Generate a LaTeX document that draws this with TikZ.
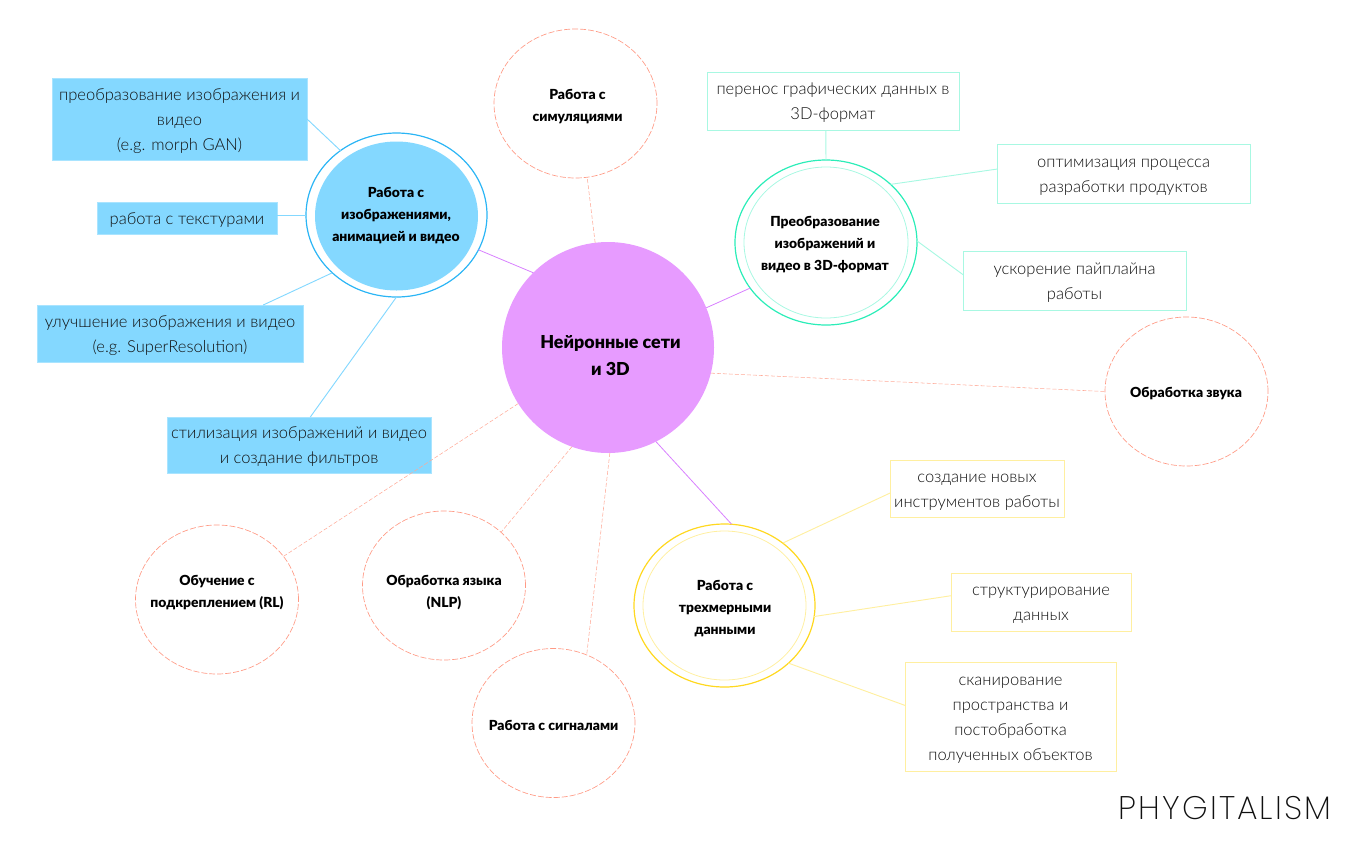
\documentclass[tikz,border=0pt]{standalone}
\usepackage{fontspec}
\usetikzlibrary{shapes.geometric}
\setmainfont{Lato}
\newfontfamily\lightf{Lato Light}
\newfontfamily\blackf{Lato Black}
\newfontfamily\logof[LetterSpace=6.5]{Poppins ExtraLight}
\newcommand\dnstrut{\rule{0pt}{11.5pt}}
\definecolor{cblue}{HTML}{84D8FF}
\definecolor{cbluer}{HTML}{2BB5F5}
\definecolor{cpink}{HTML}{E79BFF}
\definecolor{cpurple}{HTML}{D880FF}
\definecolor{cgreen}{HTML}{2BEDB8}
\definecolor{cgreenl}{HTML}{A8F8E2}
\definecolor{cyel}{HTML}{FFD820}
\definecolor{cyell}{HTML}{FFEFA0}
\definecolor{cdash}{HTML}{FF9A85}
\definecolor{ctext}{HTML}{101010}
\tikzset{
  x=0.75pt,y=-0.75pt,
  ell/.style={ellipse,inner sep=0pt,outer sep=0pt},
  pix/.style n args={2}{minimum width=#1*0.75pt,minimum height=#2*0.75pt},
  boxn/.style={rectangle,inner sep=0pt,outer sep=0pt,align=center,text=ctext,
     font=\lightf\fontsize{12.4}{18.75}\selectfont,line width=0.7pt},
  bluebox/.style={boxn,fill=cblue,draw=cblue!70!white,line width=0.5pt},
  greenbox/.style={boxn,draw=cgreenl},
  yelbox/.style={boxn,draw=cyell},
  head/.style={align=center,text=black,font=\blackf\fontsize{10.4}{16.5}\selectfont,inner sep=0pt},
  dashc/.style={ell,draw=cdash,dash pattern=on 4.5pt off 1.5pt,line width=0.5pt,pix={163}{149}},
  dashl/.style={draw=cdash!85!white,dash pattern=on 3pt off 1.5pt,line width=0.4pt},
  plink/.style={draw=cpurple,line width=0.6pt},
  blink/.style={draw=cblue,line width=0.7pt},
  glink/.style={draw=cgreenl,line width=0.7pt},
  ylink/.style={draw=cyell,line width=0.7pt},
}
\begin{document}
\begin{tikzpicture}
\useasboundingbox (0,0) rectangle (1360,850);
% central
\node[ell,fill=cpink,pix={212}{211}] (core) at (608,347.5) {};
\node[head,font=\blackf\fontsize{13.4}{20.3}\selectfont] (coret) at (610.5,356) {Нейронные сети\\и 3D};
% blue branch
\node[ell,draw=cbluer,line width=0.9pt,pix={181}{164}] (blue) at (396.5,215) {};
\node[ell,fill=cblue,pix={163}{149}] (bluei) at (396.5,216) {};
\node[head] (bluet) at (396,216) {Работа с\\изображениями,\\анимацией и видео};
\node[bluebox,pix={255}{82}] (b1) at (179.5,119) {\dnstrut преобразование изображения и\\видео\\(e.g. morph GAN)};
\node[bluebox,pix={180}{32}] (b2) at (187,218) {\dnstrut работа с текстурами};
\node[bluebox,pix={266}{57}] (b3) at (170,333.5) {\dnstrut улучшение изображения и видео\\(e.g. SuperResolution)};
\node[bluebox,pix={264}{56}] (b4) at (299,445) {\dnstrut стилизация изображений и видео\\и создание фильтров};
% green branch
\node[ell,draw=cgreen,line width=0.9pt,pix={182}{165}] (green) at (826,242.5) {};
\node[ell,draw=cgreenl,line width=0.6pt,pix={164}{151}] (greeni) at (826,242.5) {};
\node[head] (greent) at (825,245) {Преобразование\\изображений и\\видео в 3D-формат};
\node[greenbox,pix={252}{58}] (g1) at (833,101) {\dnstrut перенос графических данных в\\3D-формат};
\node[greenbox,pix={253}{59}] (g2) at (1123.5,173.5) {\dnstrut оптимизация процесса\\разработки продуктов};
\node[greenbox,pix={223}{59}] (g3) at (1074.5,280.5) {\dnstrut ускорение пайплайна\\работы};
% yellow branch
\node[ell,draw=cyel,line width=0.9pt,pix={181}{163}] (yel) at (724.5,605.5) {};
\node[ell,draw=cyell,line width=0.6pt,pix={163}{149}] (yeli) at (724.5,605.5) {};
\node[head] (yelt) at (725,609) {Работа с\\трехмерными\\данными};
\node[yelbox,pix={174}{57}] (y1) at (977,488.5) {\dnstrut создание новых\\инструментов работы};
\node[yelbox,pix={180}{58}] (y2) at (1041,602) {\dnstrut структурирование\\данных};
\node[yelbox,pix={211}{109}] (y3) at (1010.5,716.5) {\dnstrut сканирование\\пространства и\\постобработка\\полученных объектов};
% dashed
\node[dashc] (sim) at (575.5,103.5) {};
\node[head] (simt) at (577.5,107) {Работа с\\симуляциями};
\node[dashc] (snd) at (1186.5,391.5) {};
\node[head] (sndt) at (1186,393.5) {Обработка звука};
\node[dashc] (rl) at (217,599.5) {};
\node[head] (rlt) at (217,592.5) {Обучение с\\подкреплением (RL)};
\node[dashc] (nlp) at (444,585.5) {};
\node[head] (nlpt) at (444,593) {Обработка языка\\(NLP)};
\node[dashc] (sig) at (553.5,723) {};
\node[head] (sigt) at (553.5,725.5) {Работа с сигналами};
% connectors
\draw[plink] (core.135) -- (blue.-23);
\draw[plink] (core.22.4) -- (green.211.5);
\draw[plink] (core.-63.3) -- (yel.85.4);
\draw[blink] (b1.east) -- (blue.131.9);
\draw[blink] (b2.east |- blue.180) -- (blue.180);
\draw[blink] (b3.17.2) -- (blue.222.5);
\draw[blink] (b4.68.6) -- (blue.270);
\draw[glink] (g1.256.4) -- (green.90);
\draw[glink] (g2.178) -- (green.42);
\draw[glink] (g3.177.7) -- (green.1);
\draw[ylink] (y1.183) -- (yel.47.8);
\draw[ylink] (y2.176.8) -- (yel.-7.9);
\draw[ylink] (y3.174.9) -- (yel.-42.2);
\draw[dashl] (core.97.1) -- (sim.-81.2);
\draw[dashl] (core.-14.2) -- (snd.180);
\draw[dashl] (core.212.7) -- (rl.33);
\draw[dashl] (core.250.6) -- (nlp.43.2);
\draw[dashl] (core.-89.4) -- (sig.64.8);
% logo
\node[inner sep=0pt,text=ctext,font=\logof\fontsize{24.5}{24.5}\selectfont] (logo) at (1225,808.5) {PHYGITALISM};
\end{tikzpicture}
\end{document}
